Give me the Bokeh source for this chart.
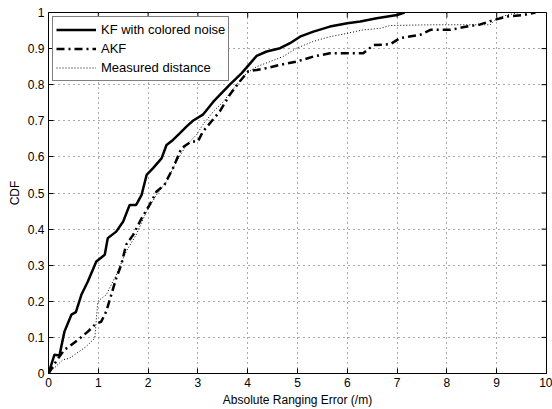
import math
from bokeh.plotting import figure
from bokeh.models import FixedTicker, Legend, LegendItem, Range1d
from bokeh.embed import file_html
from bokeh.resources import INLINE

# KF with colored noise (solid)
kf_x = [0, 0.12, 0.22, 0.32, 0.46, 0.55, 0.66, 0.79, 0.96, 1.13, 1.19, 1.36, 1.50, 1.63,
        1.76, 1.87, 1.97, 2.10, 2.27, 2.37, 2.50, 2.64, 2.77, 2.90, 3.10, 3.31, 3.64, 3.88,
        4.08, 4.18, 4.38, 4.65, 4.85, 5.05, 5.32, 5.65, 6.0, 6.26, 6.59, 7.0, 7.15]
kf_y = [0, 0.052, 0.05, 0.116, 0.163, 0.17, 0.218, 0.255, 0.31, 0.329, 0.375, 0.393, 0.421, 0.467,
        0.467, 0.495, 0.55, 0.569, 0.596, 0.633, 0.647, 0.666, 0.684, 0.70, 0.717, 0.753, 0.80, 0.832,
        0.864, 0.88, 0.892, 0.901, 0.915, 0.933, 0.947, 0.961, 0.970, 0.975, 0.984, 0.993, 1.0]

# AKF (dash-dot)
akf_x = [0, 0.15, 0.32, 0.42, 0.59, 0.79, 0.93, 1.06, 1.16, 1.26, 1.36, 1.46, 1.56, 1.70,
         1.87, 2.03, 2.17, 2.33, 2.50, 2.67, 2.87, 3.0, 3.10, 3.27, 3.44, 3.64, 3.84, 4.01,
         4.18, 4.38, 4.65, 4.98, 5.32, 5.65, 6.0, 6.32, 6.53, 6.86, 7.06, 7.46, 7.67, 8.07,
         8.40, 8.67, 8.94, 9.21, 9.54, 9.78]
akf_y = [0, 0.033, 0.066, 0.075, 0.093, 0.116, 0.135, 0.144, 0.172, 0.218, 0.264, 0.301, 0.357, 0.384,
         0.43, 0.467, 0.504, 0.523, 0.569, 0.624, 0.643, 0.643, 0.67, 0.698, 0.726, 0.772, 0.809, 0.837,
         0.841, 0.846, 0.855, 0.864, 0.878, 0.887, 0.887, 0.887, 0.910, 0.912, 0.929, 0.938, 0.952, 0.952,
         0.961, 0.967, 0.979, 0.989, 0.993, 1.0]

# Measured distance (dotted)
md_x = [0, 0.29, 0.42, 0.76, 0.93, 0.99, 1.16, 1.36, 1.56, 1.76, 1.97, 2.17, 2.37, 2.57,
        2.77, 2.97, 3.10, 3.31, 3.51, 3.78, 3.98, 4.18, 4.45, 4.71, 4.98, 5.32, 5.65, 5.99,
        6.32, 6.66, 6.86, 7.73, 8.87, 9.0, 9.21, 9.45]
md_y = [0, 0.038, 0.042, 0.075, 0.098, 0.20, 0.218, 0.273, 0.338, 0.384, 0.449, 0.495, 0.532, 0.587,
        0.633, 0.661, 0.689, 0.726, 0.753, 0.80, 0.832, 0.850, 0.864, 0.878, 0.901, 0.92, 0.933, 0.942,
        0.952, 0.956, 0.964, 0.966, 0.966, 0.984, 0.993, 1.0]

x_ticks = [0, 1, 2, 3, 4, 5, 6, 7, 8, 9, 10]
y_ticks = [0, 0.1, 0.2, 0.3, 0.4, 0.5, 0.6, 0.7, 0.8, 0.9, 1]
y_labels = ["0", "0.1", "0.2", "0.3", "0.4", "0.5", "0.6", "0.7", "0.8", "0.9", "1"]

FONT = "Liberation Sans"
X_MIN, X_MAX = x_ticks[0], x_ticks[-1]
Y_MIN, Y_MAX = y_ticks[0], y_ticks[-1]

p = figure(width=552, height=409, output_backend="svg", toolbar_location=None,
           x_range=Range1d(X_MIN, X_MAX), y_range=Range1d(Y_MIN, Y_MAX),
           min_border_left=48, min_border_right=6, min_border_top=12, min_border_bottom=36,
           x_axis_label="Absolute Ranging Error (/m)", y_axis_label="CDF")
p.background_fill_color = "white"
p.border_fill_color = "white"
p.outline_line_color = "black"
p.outline_line_width = 1

p.xaxis.ticker = FixedTicker(ticks=x_ticks)
p.yaxis.ticker = FixedTicker(ticks=y_ticks)
p.yaxis.major_label_overrides = {t: l for t, l in zip(y_ticks, y_labels)}

for ax in p.axis:
    ax.major_tick_in = 5
    ax.major_tick_out = 0
    ax.minor_tick_in = 0
    ax.minor_tick_out = 0
    ax.axis_line_color = "black"
    ax.major_tick_line_color = "black"
    ax.major_label_text_font = FONT
    ax.major_label_text_font_size = "12px"
    ax.major_label_text_color = "black"
    ax.axis_label_text_font = FONT
    ax.axis_label_text_font_size = "12px"
    ax.axis_label_text_font_style = "normal"
    ax.axis_label_text_color = "black"
    ax.major_label_standoff = 4
    ax.axis_label_standoff = 3

# inward tick marks on the top and right frame edges
p.ray(x=x_ticks, y=[Y_MAX] * len(x_ticks), length=5, length_units="screen",
      angle=-math.pi / 2, line_color="black", line_width=1)
p.ray(x=[X_MAX] * len(y_ticks), y=y_ticks, length=5, length_units="screen",
      angle=math.pi, line_color="black", line_width=1)

for g in (p.xgrid, p.ygrid):
    g.grid_line_color = "#555555"
    g.grid_line_dash = "1 4"
    g.grid_line_width = 1

r1 = p.line(kf_x, kf_y, line_color="black", line_width=2.5)
r2 = p.line(akf_x, akf_y, line_color="black", line_width=2.5, line_dash="8 4 2 4")
r3 = p.line(md_x, md_y, line_color="black", line_width=1, line_dash="1 2")

legend = Legend(items=[LegendItem(label="KF with colored noise", renderers=[r1]),
                       LegendItem(label="AKF", renderers=[r2]),
                       LegendItem(label="Measured distance", renderers=[r3])],
                location="top_left")
legend.label_text_font = FONT
legend.label_text_font_size = "13px"
legend.label_text_color = "black"
legend.glyph_width = 40
legend.glyph_height = 19
legend.label_height = 19
legend.spacing = 0
legend.padding = 3
legend.margin = 4
legend.border_line_color = "black"
legend.border_line_width = 1
legend.background_fill_alpha = 1
p.add_layout(legend, "center")

open("out.html", "w").write(file_html(p, INLINE))
